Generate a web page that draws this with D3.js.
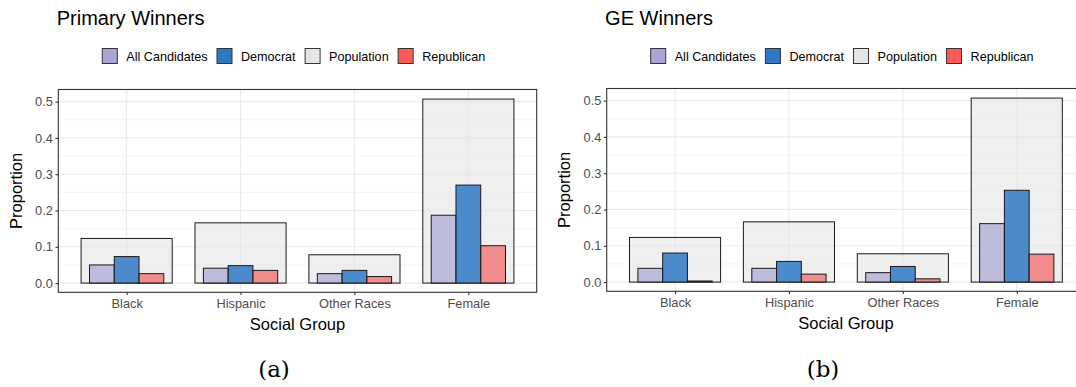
<!DOCTYPE html>
<html>
<head>
<meta charset="utf-8">
<script src="https://cdn.jsdelivr.net/npm/d3@7"></script>
<style>
  html, body { margin: 0; padding: 0; background: #fff; }
  svg { display: block; font-family: "Liberation Sans", Arial, sans-serif; }
</style>
</head>
<body>
<svg id="chart" width="1076" height="387"></svg>
<script>
// Social groups on the x axis
const categories = ["Black", "Hispanic", "Other Races", "Female"];

// Share of the population in each group
const population = [0.123, 0.166, 0.078, 0.507];

// Primary winners
const primaryAll = [0.050, 0.041, 0.026, 0.187];
const primaryDem = [0.073, 0.048, 0.035, 0.270];
const primaryRep = [0.026, 0.035, 0.018, 0.103];

// General-election winners
const geAll = [0.038, 0.038, 0.026, 0.161];
const geDem = [0.080, 0.057, 0.043, 0.253];
const geRep = [0.003, 0.022, 0.009, 0.077];

const yTicks = [0, 0.1, 0.2, 0.3, 0.4, 0.5];
const yMinor = [0.05, 0.15, 0.25, 0.35, 0.45];
const legendNames = ["All Candidates", "Democrat", "Population", "Republican"];

const legendFill = {
  "All Candidates": "#A9A6D4",
  "Democrat": "#2F78C4",
  "Population": "#E5E5E5",
  "Republican": "#FF5A5A"
};
const barStyle = {
  "All Candidates": { fill: "#A9A6D4", opacity: 0.7 },
  "Democrat": { fill: "#2F78C4", opacity: 0.85 },
  "Population": { fill: "#E5E5E5", opacity: 0.6 },
  "Republican": { fill: "#F26B6B", opacity: 0.75 }
};

const svg = d3.select("#chart");

function drawPanel(cfg) {
  const W = 478.4, H = 202.8;
  const g = svg.append("g").attr("transform", `translate(${cfg.left},${cfg.top})`);

  // discrete axis with 0.6-unit padding on each side
  const x = d3.scalePoint().domain(categories).range([0, W]).padding(0.6);
  const step = x.step();
  const y = d3.scaleLinear().domain([-0.0254, 0.5334]).range([H, 0]);

  // grid
  g.append("g").selectAll("line").data(yMinor).join("line")
    .attr("x1", 0).attr("x2", W)
    .attr("y1", d => y(d)).attr("y2", d => y(d))
    .attr("stroke", "#EBEBEB").attr("stroke-width", 0.55);
  g.append("g").selectAll("line").data(yTicks).join("line")
    .attr("x1", 0).attr("x2", W)
    .attr("y1", d => y(d)).attr("y2", d => y(d))
    .attr("stroke", "#EBEBEB").attr("stroke-width", 1.1);
  g.append("g").selectAll("line").data(categories).join("line")
    .attr("y1", 0).attr("y2", H)
    .attr("x1", d => x(d)).attr("x2", d => x(d))
    .attr("stroke", "#EBEBEB").attr("stroke-width", 1.1);

  // population bars (wide, behind)
  const popW = 0.8 * step;
  g.append("g").selectAll("rect").data(categories).join("rect")
    .attr("x", d => x(d) - popW / 2)
    .attr("width", popW)
    .attr("y", (d, i) => y(population[i]))
    .attr("height", (d, i) => y(0) - y(population[i]))
    .attr("fill", barStyle.Population.fill)
    .attr("fill-opacity", barStyle.Population.opacity)
    .attr("stroke", "#1A1A1A").attr("stroke-width", 1);

  // dodged bars for candidates
  const groups = ["All Candidates", "Democrat", "Republican"];
  const innerW = 0.652 * step;
  const xs = d3.scaleBand().domain(groups).range([-innerW / 2, innerW / 2]);
  groups.forEach(name => {
    const vals = cfg.series[name];
    g.append("g").selectAll("rect").data(categories).join("rect")
      .attr("x", d => x(d) + xs(name))
      .attr("width", xs.bandwidth())
      .attr("y", (d, i) => y(vals[i]))
      .attr("height", (d, i) => y(0) - y(vals[i]))
      .attr("fill", barStyle[name].fill)
      .attr("fill-opacity", barStyle[name].opacity)
      .attr("stroke", "#1A1A1A").attr("stroke-width", 1);
  });

  // panel border
  g.append("rect").attr("x", 0).attr("y", 0).attr("width", W).attr("height", H)
    .attr("fill", "none").attr("stroke", "#333333").attr("stroke-width", 1.1);

  // y axis
  const ya = g.append("g").call(d3.axisLeft(y).tickValues(yTicks).tickFormat(d3.format(".1f")).tickSize(2.8).tickPadding(2.6));
  ya.select(".domain").remove();
  ya.selectAll(".tick line").attr("stroke", "#333333").attr("stroke-width", 1.1);
  ya.selectAll(".tick text").attr("fill", "#4D4D4D").style("font-size", "12.8px")
    .style("font-family", "'Liberation Sans', Arial, sans-serif");

  // x axis
  const xa = g.append("g").attr("transform", `translate(0,${H})`)
    .call(d3.axisBottom(x).tickSize(2.8).tickPadding(4));
  xa.select(".domain").remove();
  xa.selectAll(".tick line").attr("stroke", "#333333").attr("stroke-width", 1.1);
  xa.selectAll(".tick text").attr("fill", "#4D4D4D").style("font-size", "12.8px")
    .style("font-family", "'Liberation Sans', Arial, sans-serif");

  // axis titles
  g.append("text").attr("x", W / 2).attr("y", H + 38)
    .attr("text-anchor", "middle").attr("fill", "#000").style("font-size", "16.5px")
    .text("Social Group");
  g.append("text").attr("transform", `translate(${-36.5},${H / 2}) rotate(-90)`)
    .attr("text-anchor", "middle").attr("fill", "#000").style("font-size", "16.5px")
    .text("Proportion");

  // title
  g.append("text").attr("x", -1.6).attr("y", cfg.titleY - cfg.top)
    .attr("fill", "#000").style("font-size", "20px").text(cfg.title);

  // legend
  const lg = g.append("g").attr("transform", `translate(44,${56 - cfg.top})`);
  let lx = 0;
  legendNames.forEach(name => {
    lg.append("rect").attr("x", lx).attr("y", -7.5).attr("width", 15).attr("height", 15)
      .attr("fill", legendFill[name]).attr("stroke", "#333333").attr("stroke-width", 1);
    const t = lg.append("text").attr("x", lx + 24).attr("y", 4.6)
      .attr("fill", "#000").style("font-size", "12.6px").text(name);
    lx += 24 + t.node().getComputedTextLength() + 9.5;
  });

  // subfigure caption
  svg.append("text").attr("x", cfg.capX).attr("y", 377)
    .attr("text-anchor", "middle").attr("fill", "#000")
    .style("font-family", "'DejaVu Serif', 'Liberation Serif', serif").style("font-size", "23px")
    .text(cfg.caption);
}

drawPanel({
  left: 58.3, top: 89.5, title: "Primary Winners", titleY: 25, caption: "(a)", capX: 274,
  series: { "All Candidates": primaryAll, "Democrat": primaryDem, "Republican": primaryRep }
});
drawPanel({
  left: 606.7, top: 88.5, title: "GE Winners", titleY: 25, caption: "(b)", capX: 823,
  series: { "All Candidates": geAll, "Democrat": geDem, "Republican": geRep }
});
</script>
</body>
</html>
